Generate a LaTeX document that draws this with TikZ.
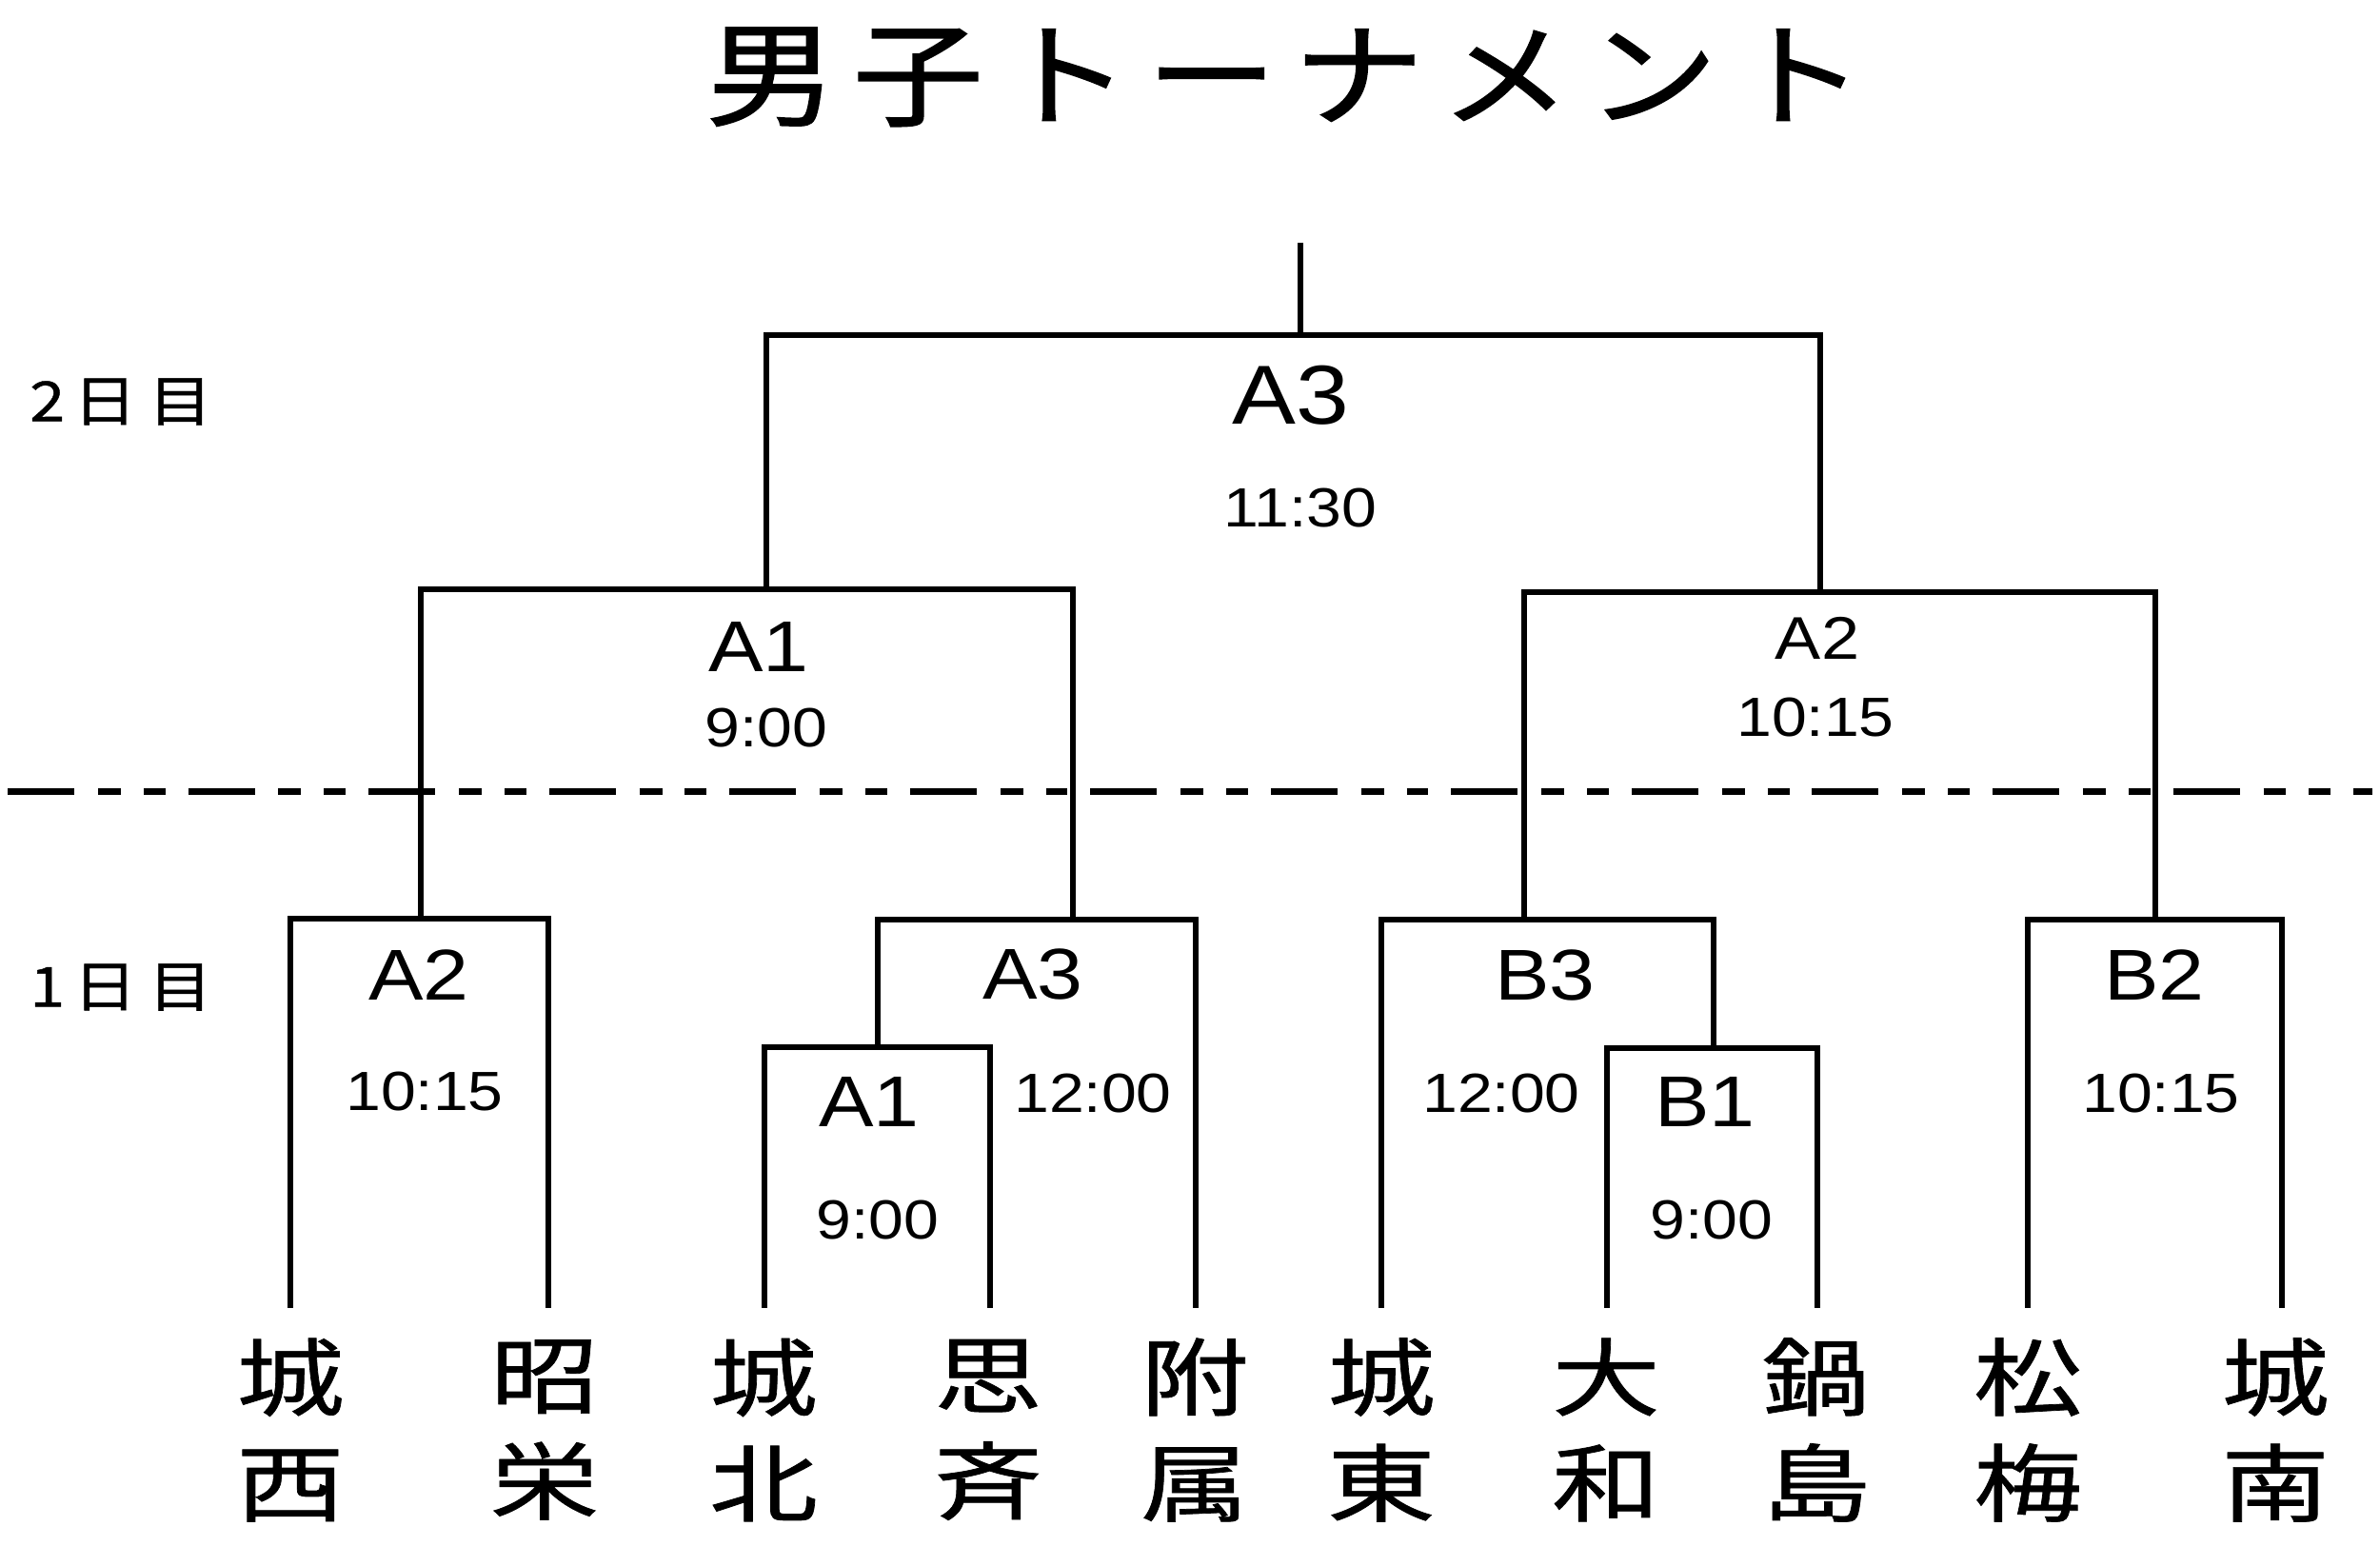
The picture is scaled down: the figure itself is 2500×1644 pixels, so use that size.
\documentclass[tikz,border=0pt]{standalone}
\usepackage{fontspec}
\setmainfont{Liberation Sans}[FakeStretch=1.14]
\newfontfamily\jpfont{Noto Sans CJK JP}[FakeStretch=1.15,FakeBold=0.8]
\newfontfamily\jptitle{Noto Sans CJK JP}[FakeStretch=1.15,LetterSpace=14,FakeBold=1.2]
\newfontfamily\jpteam{Noto Sans CJK JP}[FakeStretch=1.28,FakeBold=0.8]
\begin{document}
\begin{tikzpicture}[x=0.01cm,y=-0.01cm,
  bk/.style={line width=1.9pt,line join=miter,line cap=rect},
  dashline/.style={line width=2pt,dash pattern=on 19.9pt off 7.1pt on 6.8pt off 6.8pt on 6.5pt off 6.8pt},
  lbl/.style={inner sep=0pt,anchor=center},
  bigA/.style={lbl,font=\fontsize{25}{28}\selectfont},
  midA/.style={lbl,font=\fontsize{21.5}{24}\selectfont},
  smallA/.style={lbl,font=\fontsize{18}{21}\selectfont},
  tm/.style={lbl,font=\fontsize{16.5}{19}\selectfont},
  day/.style={lbl,font=\jpfont\fontsize{16.5}{19}\selectfont},
  team/.style={inner sep=0pt,anchor=center,align=center,font=\jpteam\fontsize{25.3}{31.6}\selectfont}]
\fill[white] (0,0) rectangle (2500,1644);
\useasboundingbox (0,0) rectangle (2500,1644);

% title
\node[inner sep=0pt,anchor=base,font=\jptitle\fontsize{34}{40}\selectfont] (title) at (1350,123) {男子トーナメント};

% day labels
\node[day] (day2) at (127,422) {2\kern2.5pt 日\kern3.5pt 目};
\node[day] (day1) at (127,1037) {1\kern2.5pt 日\kern3.5pt 目};

% team line ends
\coordinate (s1) at (305,1371);
\coordinate (s2) at (576,1371);
\coordinate (s3) at (803,1371);
\coordinate (s4) at (1040,1371);
\coordinate (s5) at (1256,1371);
\coordinate (s6) at (1451,1371);
\coordinate (s7) at (1688,1371);
\coordinate (s8) at (1909,1371);
\coordinate (s9) at (2130,1371);
\coordinate (s10) at (2397,1371);

% match points (stem foot on bar)
\coordinate (mA2) at (442,965);
\coordinate (mA1) at (922,1100);
\coordinate (mA3) at (1127,966);
\coordinate (mB1) at (1800,1101);
\coordinate (mB3) at (1601,966);
\coordinate (mB2) at (2264,966);
\coordinate (qA1) at (805,619);
\coordinate (qA2) at (1912,622);
\coordinate (top) at (1366,352);
\coordinate (topend) at (1366,258);

% dashed day separator
\coordinate (dl) at (8,831);
\coordinate (dr) at (2492,831);
\draw[dashline] (dl) -- (dr);

% day 1 brackets
\draw[bk] (s1) |- (mA2) -| (s2);
\draw[bk] (s3) |- (mA1) -| (s4);
\draw[bk] (mA1) |- (mA3) -| (s5);
\draw[bk] (s7) |- (mB1) -| (s8);
\draw[bk] (s6) |- (mB3) -| (mB1);
\draw[bk] (s9) |- (mB2) -| (s10);
% day 2 brackets
\draw[bk] (mA2) |- (qA1) -| (mA3);
\draw[bk] (mB3) |- (qA2) -| (mB2);
\draw[bk] (qA1) |- (top) -| (qA2);
\draw[bk] (top) -- (topend);

% labels day 2
\node[bigA] (lA3top) at (1356,415) {A3};
\node[tm] (tA3top) at (1366,534) {11:30};
\node[midA] (lA1d2) at (797,679) {A1};
\node[tm] (tA1d2) at (805,765) {9:00};
\node[smallA] (lA2d2) at (1909,670) {A2};
\node[tm] (tA2d2) at (1907,754) {10:15};

% labels day 1
\node[midA] (lA2) at (440,1024) {A2};
\node[tm] (tA2) at (446,1146) {10:15};
\node[midA] (lA3) at (1085,1023) {A3};
\node[tm] (tA3) at (1148,1148) {12:00};
\node[midA] (lA1) at (913,1157) {A1};
\node[tm] (tA1) at (922,1281) {9:00};
\node[midA] (lB3) at (1623,1024) {B3};
\node[tm] (tB3) at (1577,1148) {12:00};
\node[midA] (lB1) at (1791,1157) {B1};
\node[tm] (tB1) at (1798,1281) {9:00};
\node[midA] (lB2) at (2263,1024) {B2};
\node[tm] (tB2) at (2270,1148) {10:15};

% teams
\node[team] (n1) at (305,1502) {城\\西};
\node[team] (n2) at (572,1502) {昭\\栄};
\node[team] (n3) at (802,1502) {城\\北};
\node[team] (n4) at (1038,1502) {思\\斉};
\node[team] (n5) at (1255,1502) {附\\属};
\node[team] (n6) at (1451,1502) {城\\東};
\node[team] (n7) at (1687,1502) {大\\和};
\node[team] (n8) at (1908,1502) {鍋\\島};
\node[team] (n9) at (2130,1502) {松\\梅};
\node[team] (n10) at (2390,1502) {城\\南};
\end{tikzpicture}
\end{document}
